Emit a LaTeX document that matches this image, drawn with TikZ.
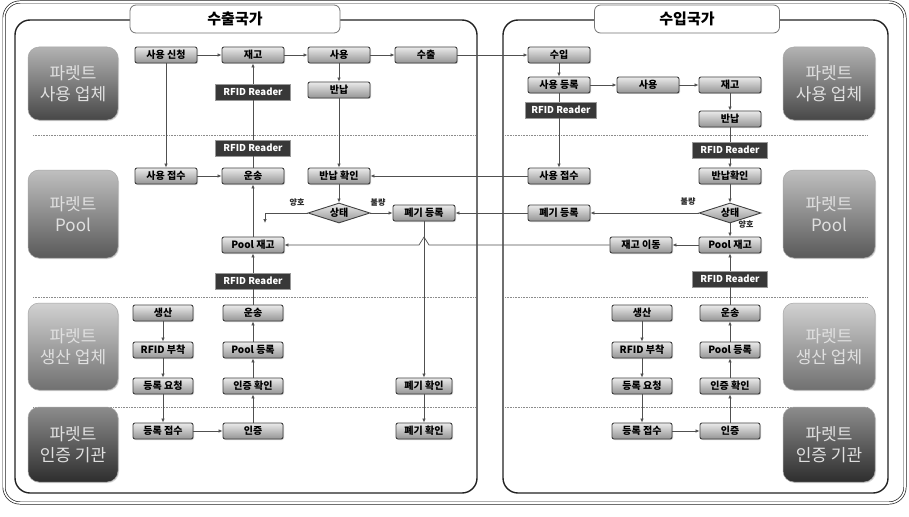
\documentclass[tikz,border=0pt]{standalone}
\usepackage{fontspec}
\setmainfont{Noto Sans CJK KR}
\usetikzlibrary{shapes.geometric,arrows.meta,shadows}
\definecolor{lnc}{HTML}{505050}
\definecolor{frm}{HTML}{222222}
\tikzset{
  pbox/.style={draw=black!75, line width=0.9pt, rounded corners=2pt, top color=black!8, bottom color=black!42,
    minimum width=62pt, minimum height=16pt, inner sep=0.5pt, text=black,
    font=\bfseries\fontsize{10}{10}\selectfont,
    drop shadow={shadow xshift=1pt, shadow yshift=-1pt, opacity=0.35}},
  rfid/.style={draw=black!40, line width=0.6pt, fill=black!78, text=white, minimum width=75pt,
    minimum height=16pt, inner sep=0.5pt, font=\bfseries\fontsize{9.5}{10}\selectfont},
  dia/.style={diamond, aspect=3.1, draw=black!75, line width=0.9pt, top color=black!8, bottom color=black!42,
    minimum width=62pt, minimum height=20pt, inner sep=0pt, text=black,
    font=\bfseries\fontsize{10}{10}\selectfont},
  cat/.style={rounded corners=11pt, minimum width=90pt, align=center, text=white!88!black,
    font=\fontsize{17}{21}\selectfont, draw=black!35, line width=0.5pt,
    drop shadow={shadow xshift=1pt, shadow yshift=-1pt, opacity=0.3}},
  catA/.style={cat, top color=black!30, middle color=black!55, bottom color=black!72},
  catB/.style={cat, top color=black!25, middle color=black!47, bottom color=black!65},
  catC/.style={cat, top color=black!18, middle color=black!38, bottom color=black!56},
  catD/.style={cat, top color=black!45, middle color=black!66, bottom color=black!82},
  ttl/.style={draw=black!55, line width=0.8pt, fill=white, rounded corners=6pt,
    minimum height=28pt, font=\bfseries\fontsize{15}{17}\selectfont},
  arr/.style={draw=lnc, line width=0.7pt, -{Latex[length=4pt,width=3.5pt]}},
  ln/.style={draw=lnc, line width=0.7pt},
  lbl/.style={font=\bfseries\fontsize{8}{8}\selectfont, text=black!85, inner sep=1pt},
  sep/.style={draw=black!45, line width=0.6pt, densely dotted},
  panel/.style={draw=frm, line width=1.4pt, rounded corners=15pt}
}
\begin{document}
\begin{tikzpicture}[x=1pt,y=-1pt]
\useasboundingbox[fill=white] (0,0) rectangle (909,516);
% frames
\draw[draw=frm, line width=0.7pt, double=white, double distance=1.6pt, rounded corners=16pt] (4,2) rectangle (905,503);
\draw[panel] (15,20) rectangle (477,493);
\draw[panel] (503,20) rectangle (888,493);
\foreach \yy in {135,297,407}{
  \draw[sep] (33,\yy) -- (475,\yy);
  \draw[sep] (505,\yy) -- (868,\yy);
}
\node[ttl, minimum width=210pt] (tL) at (235,19) {수출국가};
\node[ttl, minimum width=185pt] (tR) at (687,19) {수입국가};
% category boxes
\node[catA, minimum height=73pt] (cL1) at (73,83.5) {파렛트\\사용 업체};
\node[catB, minimum height=88pt] (cL2) at (73,214) {파렛트\\Pool};
\node[catC, minimum height=87pt] (cL3) at (73,346.5) {파렛트\\생산 업체};
\node[catD, minimum height=75pt] (cL4) at (73,444.5) {파렛트\\인증 기관};
\node[catA, minimum height=73pt, minimum width=92pt] (cR1) at (829,83.5) {파렛트\\사용 업체};
\node[catB, minimum height=88pt, minimum width=92pt] (cR2) at (829,214) {파렛트\\Pool};
\node[catC, minimum height=87pt, minimum width=92pt] (cR3) at (829,346.5) {파렛트\\생산 업체};
\node[catD, minimum height=75pt, minimum width=92pt] (cR4) at (829,444.5) {파렛트\\인증 기관};
% left panel nodes
\node[pbox] (aSin) at (166,55) {사용 신청};
\node[pbox] (aJg) at (253,55) {재고};
\node[pbox] (aSy) at (339,55) {사용};
\node[pbox] (aEx) at (426,55) {수출};
\node[rfid] (r1) at (253,92) {RFID Reader};
\node[pbox] (aBn) at (339,90) {반납};
\node[rfid] (r2) at (253,148) {RFID Reader};
\node[pbox] (aJs) at (166,176) {사용 접수};
\node[pbox] (aUs) at (253,176) {운송};
\node[pbox] (aBh) at (339,176) {반납 확인};
\node[dia] (aSt) at (339,213) {상태};
\node[pbox] (aDr) at (424,213) {폐기 등록};
\node[pbox] (aPl) at (253,245) {Pool 재고};
\node[rfid] (r3) at (253,281) {RFID Reader};
\node[pbox, minimum width=60pt] (aPr) at (163,313) {생산};
\node[pbox, minimum width=60pt] (aUs2) at (253,313) {운송};
\node[pbox, minimum width=60pt] (aRf) at (163,350) {RFID 부착};
\node[pbox, minimum width=60pt] (aPd) at (253,350) {Pool 등록};
\node[pbox, minimum width=60pt] (aRq) at (163,386) {등록 요청};
\node[pbox, minimum width=60pt] (aCc) at (253,386) {인증 확인};
\node[pbox, minimum width=56pt] (aDc) at (424,386) {폐기 확인};
\node[pbox, minimum width=60pt] (aRr) at (163,431) {등록 접수};
\node[pbox, minimum width=60pt] (aCt) at (253,431) {인증};
\node[pbox, minimum width=56pt] (aDc2) at (424,431) {폐기 확인};
\node[lbl] (gL) at (297,203) {양호};
\node[lbl] (bL) at (378,203) {불량};
\coordinate (gEnd) at (265,223);
% right panel nodes
\node[pbox] (bIm) at (559,55) {수입};
\node[pbox] (bRg) at (559,85) {사용 등록};
\node[pbox] (bSy) at (648,85) {사용};
\node[pbox] (bJg) at (730,85) {재고};
\node[rfid, minimum width=71pt] (rb1) at (561,110) {RFID Reader};
\node[pbox] (bBn) at (730,119) {반납};
\node[rfid] (rb2) at (730,150) {RFID Reader};
\node[pbox] (bJs) at (559,176) {사용 접수};
\node[pbox] (bBh) at (730,176) {반납확인};
\node[dia] (bSt) at (730,213) {상태};
\node[pbox] (bDr) at (559,213) {폐기 등록};
\node[pbox] (bPl) at (730,245) {Pool 재고};
\node[pbox] (bMv) at (641,245) {재고 이동};
\node[rfid] (rb3) at (730,279) {RFID Reader};
\node[pbox, minimum width=60pt] (bPr) at (642,313) {생산};
\node[pbox, minimum width=60pt] (bUs) at (730,313) {운송};
\node[pbox, minimum width=60pt] (bRf) at (642,350) {RFID 부착};
\node[pbox, minimum width=60pt] (bPd) at (730,350) {Pool 등록};
\node[pbox, minimum width=60pt] (bRq) at (642,386) {등록 요청};
\node[pbox, minimum width=60pt] (bCc) at (730,386) {인증 확인};
\node[pbox, minimum width=60pt] (bRr) at (642,431) {등록 접수};
\node[pbox, minimum width=60pt] (bCt) at (730,431) {인증};
\node[lbl] (bR) at (688,202) {불량};
\node[lbl] (gR) at (746,225) {양호};
% left connectors
\draw[arr] (aSin) -- (aJg);
\draw[arr] (aJg) -- (aSy);
\draw[arr] (aSy) -- (aEx);
\draw[arr] (aEx) -- (bIm);
\draw[arr] (aSin) -- (aJs);
\draw[arr] (r1) -- (aJg);
\draw[ln] (r2) -- (r1);
\draw[ln] (aUs) -- (r2);
\draw[arr] (aJs) -- (aUs);
\draw[arr] (aSy) -- (aBn);
\draw[arr] (aBn) -- (aBh);
\draw[arr] (aBh) -- (aSt);
\draw[arr] (aSt) -- (aDr);
\draw[arr] (aSt.west) -| (gEnd);
\draw[arr] (aPl) -- (aUs);
\draw[arr] (r3) -- (aPl);
\draw[ln] (aUs2) -- (r3);
\draw[arr] (aDr) -- (aDc);
\draw[arr] (aDc) -- (aDc2);
\draw[arr] (aPr) -- (aRf);
\draw[arr] (aRf) -- (aRq);
\draw[arr] (aRq) -- (aRr);
\draw[arr] (aRr) -- (aCt);
\draw[arr] (aCt) -- (aCc);
\draw[arr] (aCc) -- (aPd);
\draw[arr] (aPd) -- (aUs2);
% right connectors
\draw[arr] (bIm) -- (bRg);
\draw[arr] (bRg) -- (bSy);
\draw[arr] (bSy) -- (bJg);
\draw[arr] (bJg) -- (bBn);
\draw[ln] (bBn) -- (rb2);
\draw[arr] (rb2) -- (bBh);
\draw[ln] (bRg.south) -- (bRg.south |- rb1.north);
\draw[arr] (bRg.south |- rb1.south) -- (bJs);
\draw[arr] (bJs) -- (aBh);
\draw[arr] (bDr) -- (aDr);
\draw[arr] (bBh) -- (bSt);
\draw[arr] (bSt) -- (bDr);
\draw[arr] (bSt) -- (bPl);
\draw[arr] (bPl) -- (bMv);
\coordinate (jmp) at (aDr.center |- aPl.east);
\draw[arr] (bMv.west) -- ([xshift=5pt]jmp) -- ([yshift=8pt]jmp) -- ([xshift=-5pt]jmp) -- (aPl.east);
\draw[arr] (rb3) -- (bPl);
\draw[ln] (bUs) -- (rb3);
\draw[arr] (bPr) -- (bRf);
\draw[arr] (bRf) -- (bRq);
\draw[arr] (bRq) -- (bRr);
\draw[arr] (bRr) -- (bCt);
\draw[arr] (bCt) -- (bCc);
\draw[arr] (bCc) -- (bPd);
\draw[arr] (bPd) -- (bUs);
\end{tikzpicture}
\end{document}
